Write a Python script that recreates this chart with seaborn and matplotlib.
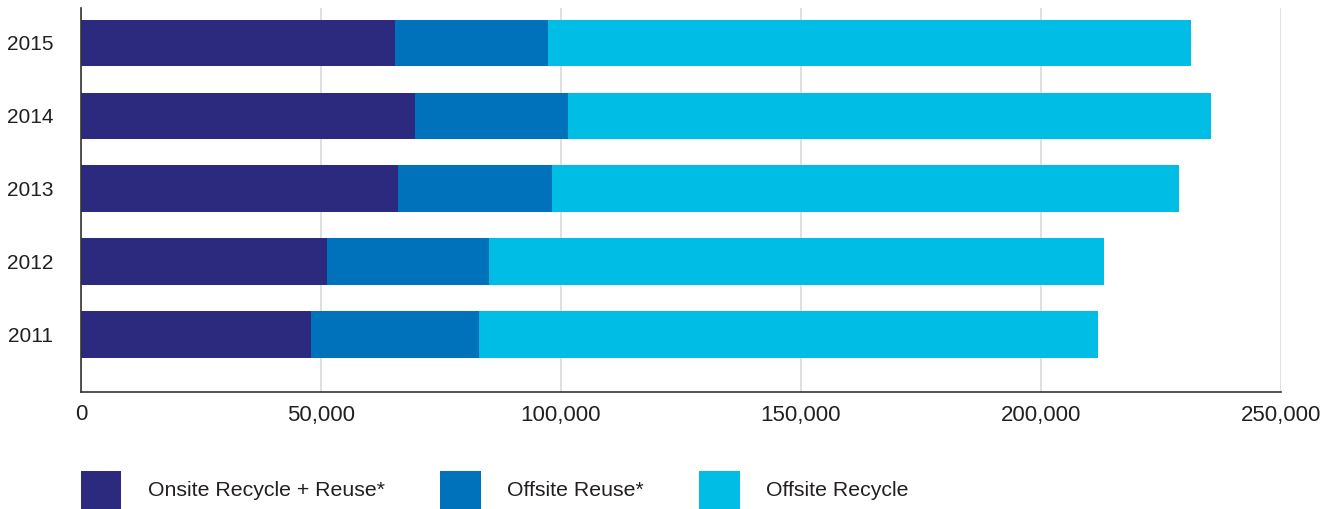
import pandas as pd
import seaborn as sns
import matplotlib.pyplot as plt
from matplotlib.patches import Patch

years = ['2015', '2014', '2013', '2012', '2011']
onsite = [65400, 69600, 66000, 51300, 47900]
offsite_reuse = [31900, 31900, 32100, 33700, 35000]
offsite_recycle = [133900, 133900, 130700, 128100, 129000]

series = ['Onsite Recycle + Reuse*', 'Offsite Reuse*', 'Offsite Recycle']
colors = ['#2c2a7f', '#0072bc', '#00bde6']

df = pd.DataFrame({'year': years, 'onsite': onsite,
                   'reuse': offsite_reuse, 'recycle': offsite_recycle})
df['c1'] = df.onsite
df['c2'] = df.onsite + df.reuse
df['c3'] = df.c2 + df.recycle

sns.set_style('white')
plt.rcParams['font.family'] = ['Liberation Sans', 'DejaVu Sans']
text_color = '#231f20'

fig = plt.figure(figsize=(13.32, 5.09), dpi=100)
ax = fig.add_axes([81 / 1332, 117 / 509, 1200 / 1332, 384 / 509])

# stacked bars: draw cumulative totals back to front
for col, c in zip(['c3', 'c2', 'c1'], colors[::-1]):
    sns.barplot(data=df, x=col, y='year', order=years, orient='h',
                color=c, width=0.64, saturation=1, linewidth=0,
                edgecolor='none', ax=ax, zorder=3)

ax.set_xlim(0, 250000)
ax.set_ylim(4.79, -0.48)
ax.set_xticks([0, 50000, 100000, 150000, 200000, 250000])
ax.set_xticklabels(['0', '50,000', '100,000', '150,000', '200,000', '250,000'])
ax.set_xlabel('')
ax.set_ylabel('')
ax.grid(axis='x', color='#d9d9d9', linewidth=1.2, zorder=0)
ax.grid(axis='y', visible=False)
for s in ['top', 'right']:
    ax.spines[s].set_visible(False)
for s in ['left', 'bottom']:
    ax.spines[s].set_color('#333333')
    ax.spines[s].set_linewidth(1.2)
    ax.spines[s].set_zorder(5)
ax.tick_params(axis='x', length=0, pad=9, labelsize=16, labelcolor=text_color)
ax.tick_params(axis='y', length=0, pad=20, labelsize=15, labelcolor=text_color)

handles = [Patch(facecolor=c, edgecolor='none') for c in colors]
fig.legend(handles, series, loc='lower left', bbox_to_anchor=(81 / 1332, 0),
           ncol=3, frameon=False, fontsize=15.3, borderpad=0, borderaxespad=0,
           handlelength=1.9, handleheight=2.4, handletextpad=1.25,
           columnspacing=2.6, labelcolor=text_color)

fig.savefig('out.png', dpi=100)
